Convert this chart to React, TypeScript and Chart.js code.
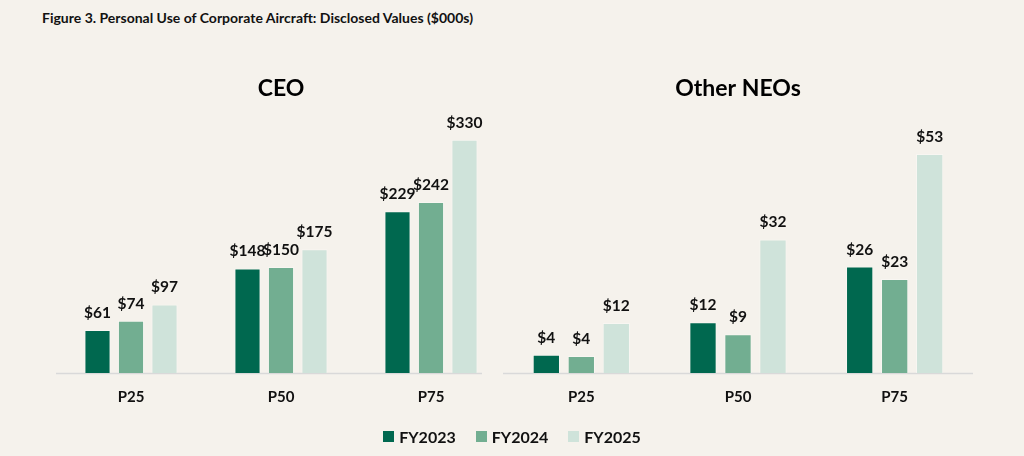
import React, { useEffect, useRef } from "react";
import { Chart, registerables } from "chart.js";

Chart.register(...registerables);

const categories = ["P25", "P50", "P75"];
const seriesNames = ["FY2023", "FY2024", "FY2025"];
const seriesColors = ["#00684F", "#72AE91", "#CFE3DA"];

const ceoFY2023 = [61, 148, 229];
const ceoFY2024 = [74, 150, 242];
const ceoFY2025 = [97, 175, 330];

const neoFY2023 = [4.4, 12.3, 25.8];
const neoFY2024 = [4.1, 9.4, 22.8];
const neoFY2025 = [12.1, 32.4, 53.1];

const FONT = "Lato, 'Open Sans', sans-serif";
const BG = "#F5F2EC";

const valueLabels = {
  id: "valueLabels",
  afterDatasetsDraw(chart: any) {
    const ctx = chart.ctx;
    ctx.save();
    ctx.font = `bold 15.5px ${FONT}`;
    ctx.fillStyle = "#111111";
    ctx.textAlign = "center";
    ctx.textBaseline = "alphabetic";
    chart.data.datasets.forEach((ds: any, i: number) => {
      const meta = chart.getDatasetMeta(i);
      meta.data.forEach((el: any, j: number) => {
        ctx.fillText("$" + Math.round(ds.data[j]), el.x, el.y - 12);
      });
    });
    ctx.restore();
  },
};

const baseLine = {
  id: "baseLine",
  beforeDatasetsDraw(chart: any, _args: any, opts: any) {
    const { ctx, chartArea } = chart;
    ctx.save();
    ctx.strokeStyle = "#D9D9D9";
    ctx.lineWidth = 1.5;
    ctx.beginPath();
    ctx.moveTo(chartArea.left, chartArea.bottom + 0.5);
    ctx.lineTo(chartArea.right - (opts.trimRight || 0), chartArea.bottom + 0.5);
    ctx.stroke();
    ctx.restore();
  },
};

function makeConfig(
  title: string,
  data: number[][],
  yMax: number,
  padLeft: number,
  padRight: number,
  trimRight: number
): any {
  return {
    type: "bar",
    data: {
      labels: categories,
      datasets: data.map((d, i) => ({
        label: seriesNames[i],
        data: d,
        backgroundColor: seriesColors[i],
        borderColor: "rgba(255,255,255,0.35)",
        borderWidth: 1,
        categoryPercentage: 0.67,
        barPercentage: 0.78,
      })),
    },
    options: {
      animation: false,
      responsive: false,
      events: [],
      layout: { padding: { left: padLeft, right: padRight, top: 0, bottom: 35 } },
      plugins: {
        legend: { display: false },
        tooltip: { enabled: false },
        title: {
          display: true,
          text: title,
          fullSize: false,
          color: "#000000",
          font: { family: FONT, size: 23, weight: "bold" },
          padding: { top: 75, bottom: 23 },
        },
        baseLine: { trimRight },
      },
      scales: {
        x: {
          grid: { display: false, drawTicks: false },
          border: { display: false },
          ticks: {
            color: "#111111",
            padding: 15,
            font: { family: FONT, size: 15, weight: "bold" },
          },
        },
        y: {
          display: false,
          min: 0,
          max: yMax,
        },
      },
    },
    plugins: [valueLabels, baseLine],
  };
}

function ChartCanvas({ config }: { config: any }) {
  const ref = useRef<HTMLCanvasElement>(null);
  useEffect(() => {
    if (!ref.current) return;
    const chart = new Chart(ref.current, config);
    return () => chart.destroy();
  }, [config]);
  return (
    <canvas
      ref={ref}
      width={1024}
      height={456}
      style={{ position: "absolute", left: 0, top: 0, width: 1024, height: 456 }}
    />
  );
}

const ceoConfig = makeConfig("CEO", [ceoFY2023, ceoFY2024, ceoFY2025], 350, 56, 1024 - 506, 24);
const neoConfig = makeConfig("Other NEOs", [neoFY2023, neoFY2024, neoFY2025], 60, 503, 1024 - 973, 0);

export default function App() {
  useEffect(() => {
    document.body.style.margin = "0";
  }, []);
  return (
    <div
      style={{
        position: "relative",
        width: 1024,
        height: 456,
        background: BG,
        overflow: "hidden",
        fontFamily: FONT,
      }}
    >
      <div
        style={{
          position: "absolute",
          left: 42,
          top: 9,
          fontSize: 14,
          fontWeight: 700,
          color: "#111111",
          whiteSpace: "nowrap",
        }}
      >
        Figure 3. Personal Use of Corporate Aircraft: Disclosed Values ($000s)
      </div>
      <ChartCanvas config={ceoConfig} />
      <ChartCanvas config={neoConfig} />
      <div
        style={{
          position: "absolute",
          left: 0,
          width: 1024,
          top: 427,
          display: "flex",
          justifyContent: "center",
          alignItems: "center",
          gap: 20,
          fontSize: 16,
          fontWeight: 700,
          color: "#111111",
        }}
      >
        {seriesNames.map((n, i) => (
          <div key={n} style={{ display: "flex", alignItems: "center", gap: 5 }}>
            <span
              style={{ display: "inline-block", width: 11, height: 11, background: seriesColors[i] }}
            />
            <span>{n}</span>
          </div>
        ))}
      </div>
    </div>
  );
}
